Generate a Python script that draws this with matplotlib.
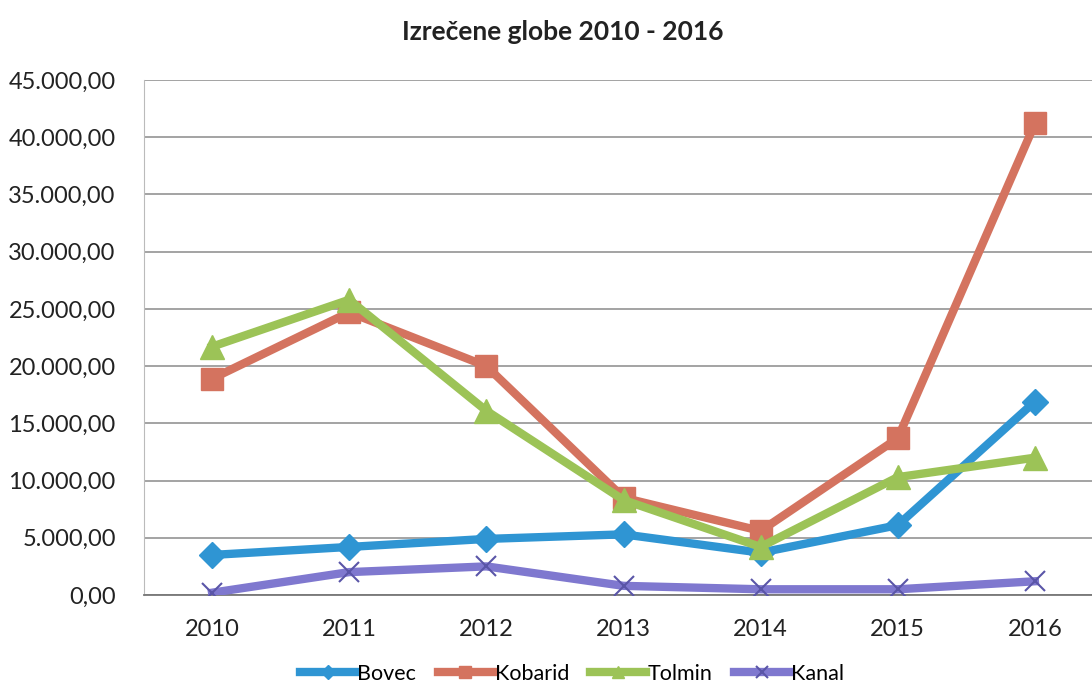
import numpy as np
import matplotlib
matplotlib.use("Agg")
import matplotlib.pyplot as plt
from matplotlib.ticker import FuncFormatter

plt.rcParams['font.family'] = ['Lato', 'DejaVu Sans']

# podatki
leta = ['2010', '2011', '2012', '2013', '2014', '2015', '2016']
bovec = [3500, 4200, 4900, 5300, 3700, 6100, 16900]
kobarid = [18900, 24700, 20000, 8500, 5600, 13700, 41200]
tolmin = [21700, 25800, 16100, 8300, 4200, 10300, 12000]
kanal = [200, 2000, 2500, 800, 500, 500, 1200]

barve = {'Bovec': '#2f95d3', 'Kobarid': '#d4735f', 'Tolmin': '#9cc357', 'Kanal': '#7f78cf'}

fig = plt.figure(figsize=(10.92, 6.88), dpi=100)
ax = fig.add_axes([143.5 / 1092, 1 - 595 / 688, 960 / 1092, 515 / 688])

x = np.arange(len(leta))
lw = 6
ax.plot(x, bovec, color=barve['Bovec'], lw=lw, marker='D', markersize=13,
        label='Bovec', zorder=3)
ax.plot(x, kobarid, color=barve['Kobarid'], lw=lw, marker='s', markersize=16,
        label='Kobarid', zorder=3)
ax.plot(x, tolmin, color=barve['Tolmin'], lw=lw, marker='^', markersize=17,
        label='Tolmin', zorder=4)
ax.plot(x, kanal, color=barve['Kanal'], lw=lw, marker='x', markersize=15,
        markeredgewidth=1.5, markeredgecolor='#5a55a8', label='Kanal', zorder=3)

ax.set_xlim(-0.5, len(leta) - 0.5)
ax.set_ylim(0, 45000)
ax.set_yticks(np.arange(0, 45001, 5000))
ax.set_xticks(x)
ax.set_xticklabels(leta)


def fmt(v, pos):
    s = '{:,.2f}'.format(v)
    return s.replace(',', 'X').replace('.', ',').replace('X', '.')


ax.yaxis.set_major_formatter(FuncFormatter(fmt))
ax.tick_params(axis='both', length=0, labelsize=17, colors='#222222')
ax.tick_params(axis='y', pad=20)
ax.tick_params(axis='x', pad=17)
ax.grid(axis='y', color='#8a8a8a', lw=1.1)
ax.set_axisbelow(True)
for s in ['top', 'right']:
    ax.spines[s].set_visible(False)
ax.spines['left'].set_color('#bbbbbb')
ax.spines['bottom'].set_color('#777777')
ax.spines['bottom'].set_linewidth(1.3)

fig.text(563 / 1092, 1 - 32 / 688, 'Izrečene globe 2010 - 2016', ha='center',
         va='center', fontsize=19, fontweight='bold', color='#222222')

fig.legend(loc='center', bbox_to_anchor=(572 / 1092, 1 - 674 / 688), ncol=4,
           frameon=False, fontsize=15.5, handlelength=2.6, handletextpad=0.05,
           columnspacing=1.0, markerscale=0.55, borderpad=0.1)

fig.savefig('out.png', dpi=100, facecolor='white')
